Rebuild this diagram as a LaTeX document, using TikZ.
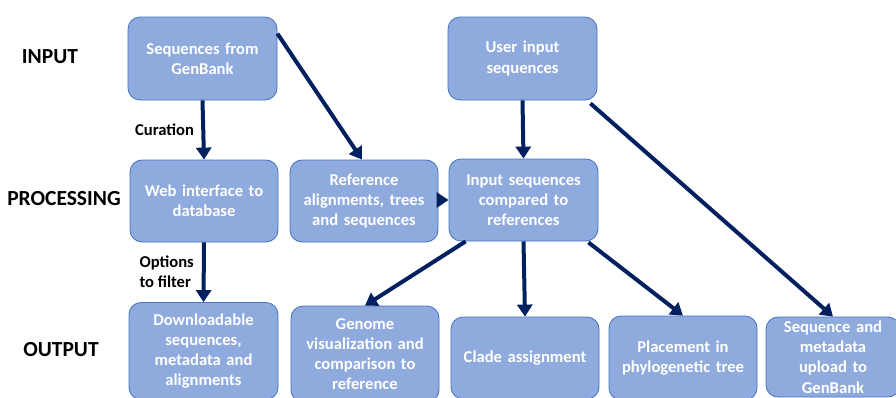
\documentclass[tikz,border=0pt]{standalone}
\usepackage{fontspec}
\setmainfont{Carlito}
\usetikzlibrary{arrows.meta}
\definecolor{boxfill}{RGB}{143,170,220}
\definecolor{boxline}{RGB}{68,114,196}
\definecolor{arrowcol}{RGB}{0,32,96}
\begin{document}
\begin{tikzpicture}[x=1pt,y=-1pt,
  box/.style={draw=boxline,line width=0.8pt,fill=boxfill,rounded corners=12pt,
    align=center,text=white,font=\fontsize{16.6}{20.2}\selectfont\bfseries,inner sep=2pt},
  rowlabel/.style={font=\fontsize{21.5}{25}\selectfont\bfseries,text=black},
  edgelabel/.style={font=\fontsize{16.6}{20}\selectfont\bfseries,text=black,align=left},
  arr/.style={draw=arrowcol,line width=4pt,-{Triangle[length=12pt,width=15pt]}}]
\useasboundingbox (0,0) rectangle (896,397);
\clip (0,0) rectangle (896,397);
\fill[white] (0,0) rectangle (896,397);

\node[rowlabel] (lin) at (50,57) {INPUT};
\node[rowlabel] (lpr) at (64,199) {PROCESSING};
\node[rowlabel] (lout) at (61,350) {OUTPUT};

\node[box,minimum width=149pt,minimum height=83pt,text width=142pt] (gb) at (202.5,58.5) {Sequences from\\GenBank};
\node[box,minimum width=149pt,minimum height=83pt,text width=142pt] (ui) at (522.5,58.5) {User input\\sequences};

\node[box,minimum width=148pt,minimum height=82pt,text width=142pt] (web) at (204,201) {Web interface to\\database};
\node[box,minimum width=148pt,minimum height=82pt,text width=142pt] (ref) at (364,201) {Reference\\alignments, trees\\and sequences};
\node[box,minimum width=149pt,minimum height=82pt,text width=142pt] (cmp) at (523.5,200) {Input sequences\\compared to\\references};

\node[box,minimum width=149pt,minimum height=97pt,text width=142pt] (dl) at (203.5,351) {Downloadable\\sequences,\\metadata and\\alignments};
\node[box,minimum width=148pt,minimum height=96pt,text width=142pt] (gen) at (365,354) {Genome\\visualization and\\comparison to\\reference};
\node[box,minimum width=148pt,minimum height=82pt,text width=142pt] (clade) at (525,358) {Clade assignment};
\node[box,minimum width=148pt,minimum height=84pt,text width=142pt] (place) at (683,358) {Placement in\\phylogenetic tree};
\node[box,minimum width=134pt,minimum height=80pt,text width=128pt] (seq) at (833,357) {Sequence and\\metadata\\upload to\\GenBank};

\draw[arr] (gb.south) -- (web.north) node[edgelabel,midway,left=4pt] (cur) {Curation};
\draw[arr] (web.south) -- (dl.north);
\node[edgelabel,anchor=west] (opt) at (136,272) {Options\\to filter};
\draw[arr] ([yshift=-17pt]gb.north east) -- ([xshift=-2pt]ref.north);
\draw[arr] (ui.south) -- (cmp.north);
\draw[arr] ([xshift=-7pt,yshift=-3pt]ui.south east) -- (seq.north);
\draw[arr] (ref.east |- cmp.west) -- (cmp.west);
\draw[arr] ([xshift=17pt]cmp.south west) -- (gen.north);
\draw[arr] (cmp.south) -- (clade.north);
\draw[arr] ([xshift=-10pt,yshift=-1pt]cmp.south east) -- (place.north);
\end{tikzpicture}
\end{document}
